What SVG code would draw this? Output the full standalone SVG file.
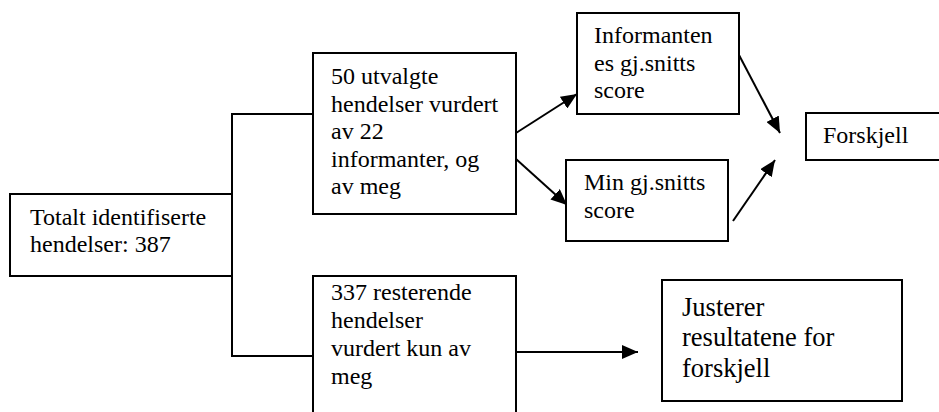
<svg xmlns="http://www.w3.org/2000/svg" width="939" height="412" viewBox="0 0 939 412">
<style>
.box{fill:#fff;stroke:#000;stroke-width:2}
text{font-family:'Liberation Serif','Tinos','DejaVu Serif',serif;fill:#000}
.t{font-size:24px}
.tl{font-size:26.5px}
.c{fill:none;stroke:#000;stroke-width:2}
</style>
<defs>
<marker id="ah" markerUnits="userSpaceOnUse" markerWidth="16" markerHeight="14" refX="16" refY="7" orient="auto">
<path d="M0,0 L16,7 L0,14 z" fill="#000"/>
</marker>
</defs>
<rect width="939" height="412" fill="#fff"/>
<g id="connectors">
<polyline class="c" points="313,114 232,114 232,356 313,356"/>
<line class="c" x1="516" y1="133" x2="577" y2="94" marker-end="url(#ah)"/>
<line class="c" x1="516" y1="159" x2="567" y2="205" marker-end="url(#ah)"/>
<line class="c" x1="739" y1="55" x2="780" y2="133" marker-end="url(#ah)"/>
<line class="c" x1="733" y1="221" x2="775" y2="160" marker-end="url(#ah)"/>
<line class="c" x1="516" y1="352" x2="638" y2="352" marker-end="url(#ah)"/>
</g>
<g id="total">
<rect class="box" x="10" y="194" width="222" height="82"/>
<text class="t" x="30" y="225">Totalt identifiserte</text>
<text class="t" x="30" y="252">hendelser: 387</text>
</g>
<g id="utvalgte">
<rect class="box" x="313" y="53" width="203" height="161"/>
<text class="t" x="331" y="84">50 utvalgte</text>
<text class="t" x="331" y="111.6">hendelser vurdert</text>
<text class="t" x="331" y="139.2">av 22</text>
<text class="t" x="331" y="166.8">informanter, og</text>
<text class="t" x="331" y="194.4">av meg</text>
</g>
<g id="resterende">
<rect class="box" x="313" y="276" width="203" height="150"/>
<text class="t" x="331" y="300">337 resterende</text>
<text class="t" x="331" y="328">hendelser</text>
<text class="t" x="331" y="356">vurdert kun av</text>
<text class="t" x="331" y="384">meg</text>
</g>
<g id="informanten">
<rect class="box" x="577" y="13" width="162" height="101"/>
<text class="t" x="594" y="43">Informanten</text>
<text class="t" x="594" y="71">es gj.snitts</text>
<text class="t" x="594" y="98">score</text>
</g>
<g id="min">
<rect class="box" x="566" y="160" width="162" height="81"/>
<text class="t" x="584" y="190">Min gj.snitts</text>
<text class="t" x="584" y="218">score</text>
</g>
<g id="forskjell">
<rect class="box" x="806" y="113" width="150" height="47"/>
<text class="t" x="823" y="143">Forskjell</text>
</g>
<g id="justerer">
<rect class="box" x="662" y="280" width="240" height="121"/>
<text class="tl" x="682" y="316">Justerer</text>
<text class="tl" x="682" y="346">resultatene for</text>
<text class="tl" x="682" y="377">forskjell</text>
</g>
</svg>
